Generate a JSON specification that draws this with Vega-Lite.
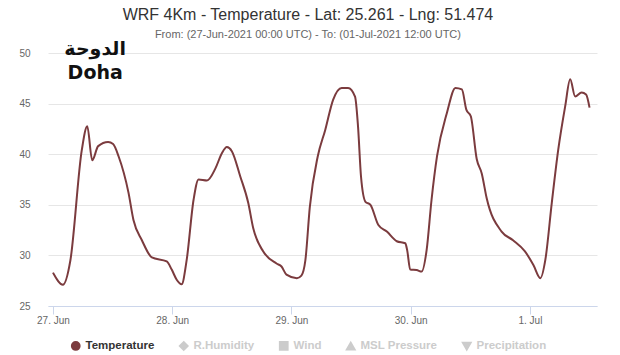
{
  "$schema": "https://vega.github.io/schema/vega-lite/v6.json",
  "width": 549,
  "height": 253,
  "autosize": {"type": "none"},
  "padding": {"left": 48, "top": 53, "right": 23, "bottom": 49},
  "background": "white",
  "title": {
    "text": "WRF 4Km - Temperature - Lat: 25.261 - Lng: 51.474",
    "subtitle": "From: (27-Jun-2021 00:00 UTC) - To: (01-Jul-2021 12:00 UTC)",
    "anchor": "middle",
    "frame": "bounds",
    "fontSize": 16,
    "fontWeight": "normal",
    "color": "#333333",
    "subtitleFontSize": 11,
    "subtitleColor": "#666666",
    "subtitlePadding": 6,
    "offset": 0
  },
  "config": {
    "view": {"stroke": null},
    "font": "Liberation Sans"
  },
  "datasets": {
    "temp": [
      {"time": "2021-06-27T00:00:00Z", "value": 28.3, "series": "Temperature"},
      {"time": "2021-06-27T02:00:00Z", "value": 27.1, "series": "Temperature"},
      {"time": "2021-06-27T03:30:00Z", "value": 29.5, "series": "Temperature"},
      {"time": "2021-06-27T05:48:00Z", "value": 40.4, "series": "Temperature"},
      {"time": "2021-06-27T06:54:00Z", "value": 42.75, "series": "Temperature"},
      {"time": "2021-06-27T07:54:00Z", "value": 39.4, "series": "Temperature"},
      {"time": "2021-06-27T09:06:00Z", "value": 40.8, "series": "Temperature"},
      {"time": "2021-06-27T11:06:00Z", "value": 41.2, "series": "Temperature"},
      {"time": "2021-06-27T12:06:00Z", "value": 41.0, "series": "Temperature"},
      {"time": "2021-06-27T13:12:00Z", "value": 39.8, "series": "Temperature"},
      {"time": "2021-06-27T15:12:00Z", "value": 36.2, "series": "Temperature"},
      {"time": "2021-06-27T16:12:00Z", "value": 33.5, "series": "Temperature"},
      {"time": "2021-06-27T17:54:00Z", "value": 31.5, "series": "Temperature"},
      {"time": "2021-06-27T19:54:00Z", "value": 29.8, "series": "Temperature"},
      {"time": "2021-06-27T22:54:00Z", "value": 29.4, "series": "Temperature"},
      {"time": "2021-06-27T23:54:00Z", "value": 28.6, "series": "Temperature"},
      {"time": "2021-06-28T00:54:00Z", "value": 27.6, "series": "Temperature"},
      {"time": "2021-06-28T01:54:00Z", "value": 27.15, "series": "Temperature"},
      {"time": "2021-06-28T02:54:00Z", "value": 29.5, "series": "Temperature"},
      {"time": "2021-06-28T04:18:00Z", "value": 35.5, "series": "Temperature"},
      {"time": "2021-06-28T05:18:00Z", "value": 37.5, "series": "Temperature"},
      {"time": "2021-06-28T07:00:00Z", "value": 37.4, "series": "Temperature"},
      {"time": "2021-06-28T08:42:00Z", "value": 38.6, "series": "Temperature"},
      {"time": "2021-06-28T10:00:00Z", "value": 40.1, "series": "Temperature"},
      {"time": "2021-06-28T11:00:00Z", "value": 40.7, "series": "Temperature"},
      {"time": "2021-06-28T12:00:00Z", "value": 40.3, "series": "Temperature"},
      {"time": "2021-06-28T13:42:00Z", "value": 37.8, "series": "Temperature"},
      {"time": "2021-06-28T15:18:00Z", "value": 35.2, "series": "Temperature"},
      {"time": "2021-06-28T16:18:00Z", "value": 32.7, "series": "Temperature"},
      {"time": "2021-06-28T18:18:00Z", "value": 30.4, "series": "Temperature"},
      {"time": "2021-06-28T21:00:00Z", "value": 29.2, "series": "Temperature"},
      {"time": "2021-06-28T22:00:00Z", "value": 28.9, "series": "Temperature"},
      {"time": "2021-06-28T23:00:00Z", "value": 28.1, "series": "Temperature"},
      {"time": "2021-06-29T01:06:00Z", "value": 27.75, "series": "Temperature"},
      {"time": "2021-06-29T02:00:00Z", "value": 28.0, "series": "Temperature"},
      {"time": "2021-06-29T02:48:00Z", "value": 29.5, "series": "Temperature"},
      {"time": "2021-06-29T03:42:00Z", "value": 34.8, "series": "Temperature"},
      {"time": "2021-06-29T05:18:00Z", "value": 39.8, "series": "Temperature"},
      {"time": "2021-06-29T06:48:00Z", "value": 42.4, "series": "Temperature"},
      {"time": "2021-06-29T08:24:00Z", "value": 45.4, "series": "Temperature"},
      {"time": "2021-06-29T10:06:00Z", "value": 46.55, "series": "Temperature"},
      {"time": "2021-06-29T11:24:00Z", "value": 46.55, "series": "Temperature"},
      {"time": "2021-06-29T12:48:00Z", "value": 45.7, "series": "Temperature"},
      {"time": "2021-06-29T13:24:00Z", "value": 42.75, "series": "Temperature"},
      {"time": "2021-06-29T14:00:00Z", "value": 37.8, "series": "Temperature"},
      {"time": "2021-06-29T14:54:00Z", "value": 35.3, "series": "Temperature"},
      {"time": "2021-06-29T15:54:00Z", "value": 35.0, "series": "Temperature"},
      {"time": "2021-06-29T17:30:00Z", "value": 33.0, "series": "Temperature"},
      {"time": "2021-06-29T19:12:00Z", "value": 32.35, "series": "Temperature"},
      {"time": "2021-06-29T21:12:00Z", "value": 31.4, "series": "Temperature"},
      {"time": "2021-06-29T22:54:00Z", "value": 31.2, "series": "Temperature"},
      {"time": "2021-06-29T23:18:00Z", "value": 30.5, "series": "Temperature"},
      {"time": "2021-06-29T23:54:00Z", "value": 28.6, "series": "Temperature"},
      {"time": "2021-06-30T01:12:00Z", "value": 28.55, "series": "Temperature"},
      {"time": "2021-06-30T02:12:00Z", "value": 28.4, "series": "Temperature"},
      {"time": "2021-06-30T03:12:00Z", "value": 30.5, "series": "Temperature"},
      {"time": "2021-06-30T04:12:00Z", "value": 35.5, "series": "Temperature"},
      {"time": "2021-06-30T05:18:00Z", "value": 39.8, "series": "Temperature"},
      {"time": "2021-06-30T07:18:00Z", "value": 44.1, "series": "Temperature"},
      {"time": "2021-06-30T09:00:00Z", "value": 46.55, "series": "Temperature"},
      {"time": "2021-06-30T10:18:00Z", "value": 46.4, "series": "Temperature"},
      {"time": "2021-06-30T11:12:00Z", "value": 44.4, "series": "Temperature"},
      {"time": "2021-06-30T12:06:00Z", "value": 43.75, "series": "Temperature"},
      {"time": "2021-06-30T13:18:00Z", "value": 39.5, "series": "Temperature"},
      {"time": "2021-06-30T14:18:00Z", "value": 38.1, "series": "Temperature"},
      {"time": "2021-06-30T15:18:00Z", "value": 35.65, "series": "Temperature"},
      {"time": "2021-06-30T18:18:00Z", "value": 32.35, "series": "Temperature"},
      {"time": "2021-06-30T20:36:00Z", "value": 31.5, "series": "Temperature"},
      {"time": "2021-06-30T23:00:00Z", "value": 30.4, "series": "Temperature"},
      {"time": "2021-07-01T00:42:00Z", "value": 29.05, "series": "Temperature"},
      {"time": "2021-07-01T02:06:00Z", "value": 27.75, "series": "Temperature"},
      {"time": "2021-07-01T03:06:00Z", "value": 29.55, "series": "Temperature"},
      {"time": "2021-07-01T04:24:00Z", "value": 35.2, "series": "Temperature"},
      {"time": "2021-07-01T05:42:00Z", "value": 40.45, "series": "Temperature"},
      {"time": "2021-07-01T07:06:00Z", "value": 44.75, "series": "Temperature"},
      {"time": "2021-07-01T08:06:00Z", "value": 47.4, "series": "Temperature"},
      {"time": "2021-07-01T09:06:00Z", "value": 45.7, "series": "Temperature"},
      {"time": "2021-07-01T10:24:00Z", "value": 46.1, "series": "Temperature"},
      {"time": "2021-07-01T11:18:00Z", "value": 45.9, "series": "Temperature"},
      {"time": "2021-07-01T12:00:00Z", "value": 44.6, "series": "Temperature"}
    ],
    "labels": [
      {"time": "2021-06-27T08:30:00Z", "value": 50.4, "label": "الدوحة"},
      {"time": "2021-06-27T08:30:00Z", "value": 48.0, "label": "Doha"}
    ]
  },
  "layer": [
    {
      "data": {"name": "temp"},
      "mark": {"type": "line", "interpolate": "monotone", "strokeWidth": 2},
      "encoding": {
        "x": {
          "field": "time",
          "type": "temporal",
          "scale": {
            "type": "utc",
            "domain": [
              {"year": 2021, "month": 6, "date": 26, "hours": 23, "utc": true},
              {"year": 2021, "month": 7, "date": 1, "hours": 13, "minutes": 30, "utc": true}
            ]
          },
          "axis": {
            "title": null,
            "values": [
              {"year": 2021, "month": 6, "date": 27, "utc": true},
              {"year": 2021, "month": 6, "date": 28, "utc": true},
              {"year": 2021, "month": 6, "date": 29, "utc": true},
              {"year": 2021, "month": 6, "date": 30, "utc": true},
              {"year": 2021, "month": 7, "date": 1, "utc": true}
            ],
            "format": "%-d. %b",
            "grid": false,
            "domainColor": "#ccd6eb",
            "tickColor": "#ccd6eb",
            "tickSize": 8,
            "labelPadding": 1,
            "labelColor": "#666666",
            "labelFontSize": 10
          }
        },
        "y": {
          "field": "value",
          "type": "quantitative",
          "scale": {"domain": [25, 50], "nice": false, "zero": false},
          "axis": {
            "title": null,
            "values": [25, 30, 35, 40, 45, 50],
            "domain": false,
            "ticks": false,
            "labelPadding": 18,
            "labelColor": "#666666",
            "labelFontSize": 10,
            "gridColor": "#e6e6e6"
          }
        },
        "color": {
          "field": "series",
          "type": "nominal",
          "scale": {
            "domain": ["Temperature", "R.Humidity", "Wind", "MSL Pressure", "Precipitation"],
            "range": ["#7b3b3e", "#cccccc", "#cccccc", "#cccccc", "#cccccc"]
          },
          "legend": {
            "title": null,
            "orient": "none",
            "legendX": 22,
            "legendY": 287,
            "direction": "horizontal",
            "columnPadding": 20,
            "symbolSize": 60,
            "symbolStrokeWidth": 2,
            "labelFontSize": 11.5,
            "labelFontWeight": "bold",
            "encode": {
              "symbols": {
                "update": {
                  "shape": {"signal": "datum.value === 'Temperature' ? 'circle' : datum.value === 'R.Humidity' ? 'diamond' : datum.value === 'Wind' ? 'square' : datum.value === 'MSL Pressure' ? 'triangle-up' : 'triangle-down'"},
                  "fill": {"signal": "datum.value === 'Temperature' ? '#7b3b3e' : '#cccccc'"}
                }
              },
              "labels": {
                "update": {
                  "fill": {"signal": "datum.value === 'Temperature' ? '#333333' : '#cccccc'"}
                }
              }
            }
          }
        }
      }
    },
    {
      "data": {"name": "labels"},
      "mark": {"type": "text", "font": "DejaVu Sans", "fontWeight": "bold", "fontSize": 19, "color": "#111111", "align": "center", "baseline": "middle"},
      "encoding": {
        "x": {"field": "time", "type": "temporal"},
        "y": {"field": "value", "type": "quantitative"},
        "text": {"field": "label"}
      }
    }
  ]
}
